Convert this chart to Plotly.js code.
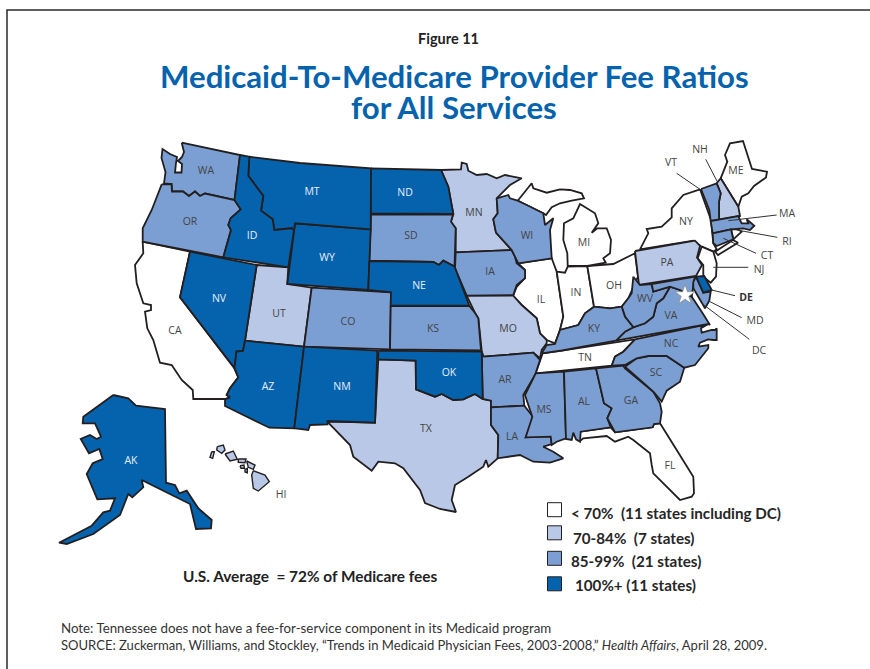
<!DOCTYPE html>
<html><head><meta charset="utf-8"><script src="https://cdn.plot.ly/plotly-3.0.1.min.js"></script></head>
<body style="margin:0;background:#fff"><div id="c" style="width:870px;height:669px"></div>
<script>
// Fee-ratio groups
const below70=['CA','IL','IN','OH','MI','MI_UP','NY','NJ','TN','FL','ME','RI','LI'];
const from70to84=['MN','UT','MO','TX','PA','NH','HI1','HI2','HI3','HI4','HI5','HI6','HI7','HI8'];
const from85to99=['WA','OR','CO','KS','SD','IA','WI','AR','LA','MS','AL','GA','SC','NC','VA','WV','KY','MD','MD_E','VT','MA','CT'];
const over100=['WY','MT','ID','ND','NE','NV','AZ','NM','OK','AK','DE'];
const groupNames=['< 70%\u00a0\u00a0(11 states including DC)','70-84%\u00a0\u00a0(7 states)','85-99%\u00a0\u00a0(21 states)','100%+ (11 states)'];

const WA=[181.7,142.7,240,155,234.5,200,205,193.5,200,196,195,191.5,189,196,183,191.5,172,191.5,171.5,184,164,183.5,165.5,172,161.5,158,162.5,149,170,154,177,157,176,163,175,172.5,181.5,172.5,182,164,178,161,182,157,184,152];
const OR=[161.7,184.3,171.5,184,172,191.5,183,191.5,189,196,195,191.5,200,196,205,193.5,234.5,200,240.7,209.3,230.7,218.3,228.3,225,231,230,223.3,257.3,142.7,241.7,142.7,228.3,151.7,210,158.3,193.3];
const ID=[240,155,249.3,156.7,248.3,175.7,263.3,196,261,210.7,272.7,219.3,274.3,230,291.7,228.3,294,230,288.3,267.3,223.3,257.3,231,230,228.3,225,230.7,218.3,240.7,209.3,234.5,200];
const MT=[249.3,156.7,300,163,371,168.3,370.7,229.3,295,223.3,294,230,291.7,228.3,274.3,230,272.7,219.3,261,210.7,263.3,196,248.3,175.7];
const WY=[295,223.3,370.7,229.3,368.3,290,287.3,284];
const NV=[190,251.7,256.7,265,245,340.7,243,351,236.5,351.5,234.5,368,180,297.3];
const UT=[256.7,265,288.3,267.3,287.3,284,311.7,287.7,304,346.7,245,340.7];
const CO=[311.7,287.7,391,292.3,390,349.3,304,346.7];
const AZ=[245,340.7,304,346.7,294.3,428.3,269.3,427.7,225,406,225,399.3,230,397.3,226.7,395,230,388.3,238.3,377.3,234.5,368,236.5,351.5,243,351];
const NM=[304,346.7,377.3,350.7,375,422.7,327.5,421,327.5,424.5,310,425,308.3,430,294.3,428.3];
const CA=[142.7,241.7,190,251.7,180,297.3,234.3,368.3,238.3,377.3,230,388.3,226.7,395,230,397.3,225,399,193.3,399,192.7,390,181.7,380,171.7,365,160,362.7,153.3,340,147.3,328.3,145,311.7,151,310,151,305,143.3,303.3,136.7,283.3,135,265,143.3,253.3];
const ND=[371,168.3,441,170,448.3,186.7,453.3,214,371,213.5];
const SD=[371,214.5,453,214.5,451,221.7,455.7,228.3,454.5,266.5,443.3,260.7,439,265,433.3,262,369.3,260.7];
const NE=[369.3,261,433.3,262,439,265,443.3,260.7,454.5,266.5,469.3,305.7,390.7,305.7,391,292.3,368.3,290];
const KS=[390.7,306,469.3,306,475,313,478.3,318.3,481,350.5,390,349.3];
const OK=[378.3,350.7,481.7,351.7,482.7,399,475,394,463.3,399.3,453.3,400,441.7,394,435,396.7,416,389.3,415.7,360.7,378.3,359.3];
const TX=[378.3,359.3,415.7,360.7,416,389.3,435,396.7,441.7,394,453.3,400,463.3,399.3,475,394,482.7,399,491,400.7,491,425,498.3,435,497.7,458.3,488.3,466.7,486,460,483.3,466.7,468.3,476.7,455,485,451.7,500,456,512,440,509,425,503,420,490,403.3,468.3,395,463.3,378.3,461.7,371.7,470.7,353.3,456.7,350,445,327.3,421.7,375,422.7];
const MN=[441,170,461,169.3,461.7,162.7,466.7,164,468.3,170.7,476.7,175,486.7,174,496.7,178.3,505,175,521.7,178.3,510,185,496.7,198.3,497.7,213.3,493.3,219.3,496,232.7,511.7,250,455.7,252.3,455.7,228.3,451,221.7,453.3,214,448.3,186.7];
const WI=[496.7,198.3,508.3,195,510,198.3,517.7,200.7,526.7,205,543.3,213.3,545,225,553.3,218.3,550,230,551.7,258.3,518.3,263.3,515,256.7,511.7,250,496,232.7,493.3,219.3,497.7,213.3];
const IA=[455.7,252.3,511.7,250,515,256.7,516.7,263.3,525,270,525,278.3,516.7,285,513.3,295,466.7,295.7,455,268.3];
const MO=[466.7,295.7,513.3,295.7,521.7,305,536.7,318.3,540,333.3,546.7,340,546.7,343.3,541.7,350,540,358.3,533.3,352.7,483.3,356.7,481.7,350.7,478.3,318.3,475,313];
const AR=[483.3,356.7,533.3,352.7,540,360,535,375,523.3,395,524.3,405.7,491,407.3,491,400.7,482.7,399,481.7,351.7];
const LA=[491,407.3,524.3,405.7,533.3,417.3,525.7,437.3,550.7,436,551.7,444,543.3,446.7,553.3,451.7,563.3,458.3,550,462.7,533.3,461.7,520,455,497.7,458.3,498.3,435,491,425];
const IL=[518.3,263.3,551.7,258.3,556.7,271.7,560,293.3,563.3,316.7,560,330,555,343.3,546.7,340,540,333.3,536.7,318.3,521.7,305,513,296,516.7,287,525,278,525,270];
const IN=[556.7,271.7,565,272.7,567.7,266.7,587.3,266,594,306.7,585,313.3,578.3,325,560,330,563.3,316.7,560,293.3];
const OH=[587.3,266,613.3,264,635,253.3,638,276.7,628.3,298.3,621.7,306.7,610,308.3,594,306.7];
const MI=[567.7,266,587.3,266,605.7,262.7,603.3,258.3,610,253.3,611,240,606.7,228.3,597.3,228.3,591.7,232.7,598.3,223.3,595,213.3,580,204,573.3,218.3,564,223.3,563.3,240,567.3,253.3];
const MI_UP=[517.7,200.7,531.7,183.3,533.3,188.3,546.7,192.7,560,189.3,570,190,581.7,193.3,584,198.3,571.7,200.7,560,203.3,551.7,207.3,546,215,543.3,213.3];
const KY=[541.7,353.3,546.7,345,555,344,560,330,578.3,325,585,313.3,594,306.7,610,308.3,621.7,306.7,625,316.7,633.3,327.3,625,331.7,616,340.7,562,350.5];
const TN=[542.7,353.3,561.7,350.7,635,339.3,623.3,351.7,615,356.7,611.7,365.7,535.7,373.3,540,360];
const MS=[535.7,373.3,564,371.7,566,438.3,556.7,441.7,551.7,445,550.7,436.7,525.7,437.3,532.3,416.7,525,395];
const AL=[564,371.7,596,368.3,604,403.3,611.7,408.3,607.3,418.3,610.7,427.3,580.7,431.7,580,441.7,576,439.3,573.3,432.7,571.7,440,566,439];
const GA=[596,368.3,623.3,365.7,625,368.3,653.3,391.7,660,403.3,661.7,411.7,660,423.3,654,424,652.7,427.3,615,432.3,607.3,418.3,611.7,408.3,604,403.3];
const SC=[625,366.7,636.7,358.3,648.3,356,666.7,356,684.3,367.7,680,381.7,666.7,390.7,661.7,401.7,653.3,391.7];
const NC=[635,339.3,708.3,324,701,328.3,701.7,332.7,711.7,330,715,330,716.7,328.3,716.7,340,713.3,340,708,339.3,700,342.7,698.3,346.7,708.3,345,708.3,348.3,695,365,684.3,367.7,666.7,356,648.3,356,636.7,358.3,625,365,611.7,365.7,615,356.7,623.3,351.7];
const VA=[616,340.7,625,331.7,633.3,327.3,645,323.3,653.3,316.7,656.7,303.3,663.3,298.3,670,286.7,680,290,691.7,296.7,701.7,311.7,710,325,708.3,324];
const WV=[633.3,276.7,640,285,651.7,284,653.3,291.7,670,286.7,663.3,298.3,656.7,303.3,653.3,316.7,645,323.3,633.3,327.3,625,316.7,621.7,306.7,628.3,298.3,631.7,293.3];
const PA=[635,251,695,240.7,700,246,697,257.5,702,265,696,276,639,285];
const MD=[651.7,284,695,276.7,694,281.7,691.7,296.7,680,290,670,286.7,653.3,291.7];
const MD_E=[693.3,281.7,693.3,288.3,705,308.3,709.3,300.7,710.7,291.7,703.3,292.7,696,276.7];
const DE=[696,276.7,704.3,276,711.7,290,703.3,292.7];
const NJ=[701.7,246.7,713.3,251.7,716.7,263.3,716,276.7,710.7,282.7,703.3,276.7,703.3,265,697.7,258.3];
const NY=[700,189.3,707.7,211.7,711,220,713.3,243.3,716.7,249.3,713.3,251.7,701.7,246.7,693.3,240.7,640,249.3,648.3,233.3,646.7,229,661.7,226.7,671.7,217.3,671.7,208.3,683.3,195];
const LI=[715,251.7,733,240,738,242.7,718,255];
const CT=[712.7,233.3,731,229.3,733.3,239.3,716.7,246,713.3,243.3];
const RI=[731,229.3,738,229.3,741.7,231.7,733.3,239.3];
const MA=[710.7,221,738.3,216,740,220,741.7,223.3,748.3,223.3,746.7,219.3,754.3,225.7,750,230,743.3,228.3,735,229,731,229.3,712.7,233.3];
const VT=[701,189,716.7,183.3,720.7,193.3,719,201.7,719,220,710.7,221,709.3,210];
const NH=[716.7,183.3,720.7,178.3,738.3,206.7,740,216,719,220,719,201.7,720.7,193.3];
const ME=[720.7,178.3,727.3,161.7,725,155,730,143.3,743,141,752,169,767,171.7,766,177.5,754,186,748.3,193.3,741.7,196.7,738.3,206.7];
const FL=[580,431.7,610.7,427.3,615,432.3,652.7,427.3,654,424,660,423.3,676.7,450,693.3,476.7,694,493.3,691.7,496.7,680,500,666.7,486.7,653.3,473.3,651.7,465,650,453.3,633.3,440,628.3,436.7,615,441.7,606.7,436,583.3,438.3,580,441];
const AK=[113.3,395,128.3,398.3,136,405.7,165,409,166,482.7,175,485,179.3,493.3,186.7,490.7,198.3,508.3,211.7,520,211,528.3,196,529,190,504,141.7,480,143.3,487.3,132.3,497.3,128.3,494,120,515,93.3,534,66.7,544,59,542.7,91.7,525.7,103.3,512.3,110,510.7,115,498.3,97.3,499.3,86.7,474,92.7,463.3,102.7,459,99.3,449,89,453.3,80.7,439,90,435,96.7,439,101,436.7,95,423.3,82.7,423.3,83.3,416.7];
const HI1=[253.3,470.7,265,475,269.3,481.7,258.3,491,253.3,488.3,251.7,475];
const HI2=[246.7,461,255,465,253.3,469.3,248.3,467.3];
const HI3=[238.3,459,246,459,245,462.7,238.3,462.3];
const HI4=[240,465.7,244,465,244.3,468.3,241,468.3];
const HI5=[245,469.3,247.3,468.3,247.3,472.7,245,472];
const HI6=[225,454,233.3,451,237.3,459.3,230,461];
const HI7=[217.3,446.7,223.3,445,225,450,221.7,453.3,216.7,450];
const HI8=[211.7,451.7,214.3,451.7,212.7,458.3,210,457.3];
const outlines={WA,OR,ID,MT,WY,NV,UT,CO,AZ,NM,CA,ND,SD,NE,KS,OK,TX,MN,WI,IA,MO,AR,LA,IL,IN,OH,MI,MI_UP,KY,TN,MS,AL,GA,SC,NC,VA,WV,PA,MD,MD_E,DE,NJ,NY,LI,CT,RI,MA,VT,NH,ME,FL,AK,HI1,HI2,HI3,HI4,HI5,HI6,HI7,HI8};

// State labels
const darkLabels=['WA','OR','CO','KS','SD','IA','WI','AR','LA','MS','AL','GA','SC','NC','VA','WV','KY','TN','MN','UT','MO','TX','PA','CA','IL','IN','OH','MI','NY','ME','FL','VT','NH','MA','RI','CT','NJ','MD','DC','HI'];
const darkLabelX=[206,190,348,433,411,490,527,505,512,544,584,631,656,671,671,645,594,585,474,279,508,426,667,175,541,576,614,584,686,736,670,671,700,787,787,767,759,755,759,281];
const darkLabelY=[171,222,322,329,236,272,236,380,437,410,402,401,373,344,316,299,329,358,213,314,329,429,263,331,300,293,286,243,222,171,466,163,150,214,242,256,270,321,351,495];
const lightLabels=['MT','ID','WY','NV','AZ','NM','ND','NE','OK','AK'];
const lightLabelX=[312,252,327,219,268,342,405,419,449,131];
const lightLabelY=[192,236,258,299,387,387,193,286,373,461];
const leaderFromX=[676.7,705.7,776.7,777.3,756,748.3,735,741.7,749.3];
const leaderFromY=[173.3,159.3,215,237.3,253.3,267.3,295.7,317.7,339.3];
const leaderToX=[700,717.3,728.3,736.7,723.3,713.3,711.7,710,701.7];
const leaderToY=[189.3,181.7,220.7,230,238.3,267.3,290,301.7,303.3];

const groupColors=['#ffffff','#b8c8e6','#7b9fd3','#0563ae'];
const groups=[below70,from70to84,from85to99,over100];
const stroke='#231f20';
const traces=[];
groups.forEach((g,i)=>g.forEach(k=>{
  const p=outlines[k],x=[],y=[];
  for(let j=0;j<p.length;j+=2){x.push(p[j]);y.push(p[j+1]);}
  x.push(p[0]);y.push(p[1]);
  traces.push({type:'scatter',mode:'lines',x,y,fill:'toself',fillcolor:groupColors[i],
    line:{color:stroke,width:k.startsWith('HI')?1.4:1.8,shape:'linear'},hoverinfo:'skip',showlegend:false});
}));
leaderFromX.forEach((v,i)=>traces.push({type:'scatter',mode:'lines',x:[v,leaderToX[i]],y:[leaderFromY[i],leaderToY[i]],
  line:{color:'#333',width:1},hoverinfo:'skip',showlegend:false}));
traces.push({type:'scatter',mode:'markers',x:[685],y:[295],marker:{symbol:'star',size:15,color:'#fff',line:{color:'#888',width:0.7}},hoverinfo:'skip',showlegend:false});
traces.push({type:'scatter',mode:'text',x:darkLabelX,y:darkLabelY,text:darkLabels,textfont:{family:'Open Sans',size:10.5,color:'#444'},hoverinfo:'skip',showlegend:false});
traces.push({type:'scatter',mode:'text',x:lightLabelX,y:lightLabelY,text:lightLabels,textfont:{family:'Open Sans',size:10.5,color:'#e8eef8'},hoverinfo:'skip',showlegend:false});
traces.push({type:'scatter',mode:'text',x:[746],y:[298],text:['<b>DE</b>'],textfont:{family:'Open Sans',size:10.5,color:'#333'},hoverinfo:'skip',showlegend:false});
// legend swatches
traces.push({type:'scatter',mode:'markers',x:[554.5,554.5,554.5,554.5],y:[509.7,532.8,558.3,583.8],
  marker:{symbol:'square',size:14,color:groupColors,line:{color:stroke,width:1}},hoverinfo:'skip',showlegend:false});

const text=(x,y,t,size,color,anchor,family)=>({xref:'x',yref:'y',x,y,text:t,showarrow:false,xanchor:anchor||'left',yanchor:'middle',
  font:{family:family||'Lato',size,color},align:'center'});
const anns=[
 text(448,38,'<b>Figure 11</b>',14.5,'#222','center'),
 text(454,76,'<b>Medicaid-To-Medicare Provider Fee Ratios</b>',31.2,'#0563ae','center'),
 text(454,107,'<b>for All Services</b>',31.2,'#0563ae','center'),
 text(568.7,513,'<b>'+groupNames[0]+'</b>',15.2,'#262626'),
 text(570.7,537.5,'<b>'+groupNames[1]+'</b>',15.2,'#262626'),
 text(568.7,561,'<b>'+groupNames[2]+'</b>',15.2,'#262626'),
 text(573,585,'<b>'+groupNames[3]+'</b>',15.2,'#262626'),
 text(310.5,576,'<b>U.S. Average\u00a0\u00a0= 72% of Medicare fees</b>',15.4,'#222','center'),
 text(59,628,'Note: Tennessee does not have a fee-for-service component in its Medicaid program',13.3,'#333'),
 text(59,645,'SOURCE: Zuckerman, Williams, and Stockley, \u201cTrends in Medicaid Physician Fees, 2003-2008,\u201d <i>Health Affairs</i>, April 28, 2009.',13.05,'#333')
];
const ax={range:[0,870],visible:false,fixedrange:true};
Plotly.newPlot('c',traces,{
  width:870,height:669,margin:{l:0,r:0,t:0,b:0},paper_bgcolor:'#fff',plot_bgcolor:'#fff',
  xaxis:ax,yaxis:{range:[669,0],visible:false,fixedrange:true},annotations:anns,
  shapes:[{type:'path',path:'M7,669 L7,10 L870,10',xref:'x',yref:'y',line:{color:'#2a2a2a',width:1.5}}]
},{displayModeBar:false});
</script></body></html>
